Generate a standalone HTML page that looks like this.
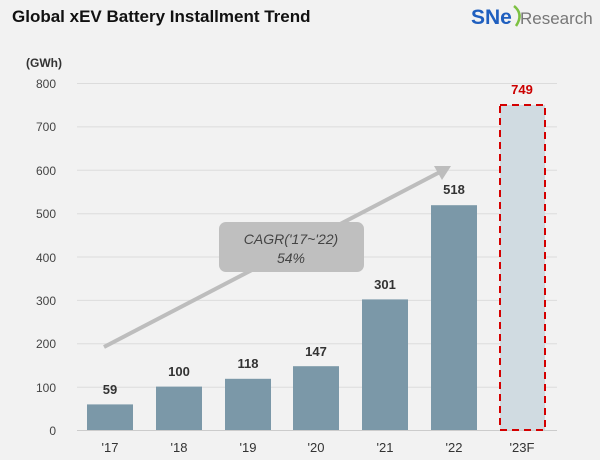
<!DOCTYPE html><html><head><style>body{margin:0;background:#f2f2f2}</style></head><body>
<svg width="600" height="455" xmlns="http://www.w3.org/2000/svg" font-family="Liberation Sans, sans-serif">
<rect width="600" height="455" fill="#f2f2f2"/>
<text x="12" y="22" font-size="17" font-weight="bold" fill="#111">Global xEV Battery Installment Trend</text>
<text x="471" y="24" font-size="21" font-weight="bold" fill="#1f5fbf">SNe</text>
<path d="M514 6 Q524 14 516 26" stroke="#7dc142" stroke-width="2.5" fill="none"/>
<text x="520" y="24" font-size="17" fill="#777">Research</text>
<text x="26" y="67" font-size="12" font-weight="bold" fill="#333">(GWh)</text>
<g stroke="#dcdcdc" stroke-width="1">
<line x1="77" x2="557" y1="83.5" y2="83.5"/><line x1="77" x2="557" y1="126.9" y2="126.9"/>
<line x1="77" x2="557" y1="170.3" y2="170.3"/><line x1="77" x2="557" y1="213.7" y2="213.7"/>
<line x1="77" x2="557" y1="257" y2="257"/><line x1="77" x2="557" y1="300.4" y2="300.4"/>
<line x1="77" x2="557" y1="343.8" y2="343.8"/><line x1="77" x2="557" y1="387.2" y2="387.2"/>
<line x1="77" x2="557" y1="430.5" y2="430.5" stroke="#ccc"/>
</g>
<g font-size="12" fill="#444" text-anchor="end">
<text x="56" y="88">800</text><text x="56" y="131">700</text><text x="56" y="175">600</text>
<text x="56" y="218">500</text><text x="56" y="262">400</text><text x="56" y="305">300</text>
<text x="56" y="348">200</text><text x="56" y="392">100</text><text x="56" y="435">0</text>
</g>
<g fill="#7b98a8">
<rect x="87" y="404.4" width="46" height="25.6"/>
<rect x="156" y="386.6" width="46" height="43.4"/>
<rect x="225" y="378.8" width="46" height="51.2"/>
<rect x="293" y="366.2" width="46" height="63.8"/>
<rect x="362" y="299.4" width="46" height="130.6"/>
<rect x="431" y="205.2" width="46" height="224.8"/>
</g>
<rect x="500" y="105" width="45" height="325" fill="#d0dbe1" stroke="#d40000" stroke-width="2" stroke-dasharray="7,5"/>
<g font-size="13" font-weight="bold" fill="#333" text-anchor="middle">
<text x="110" y="394">59</text><text x="179" y="376">100</text><text x="248" y="368">118</text>
<text x="316" y="356">147</text><text x="385" y="289">301</text><text x="454" y="194">518</text>
<text x="522" y="94" fill="#cc0000">749</text>
</g>
<g font-size="13" fill="#333" text-anchor="middle">
<text x="110" y="452">'17</text><text x="179" y="452">'18</text><text x="248" y="452">'19</text>
<text x="316" y="452">'20</text><text x="385" y="452">'21</text><text x="454" y="452">'22</text><text x="522" y="452">'23F</text>
</g>
<line x1="104" y1="347" x2="440" y2="172" stroke="#bdbdbd" stroke-width="4"/>
<polygon points="451,166 434,166 442,180" fill="#bdbdbd"/>
<rect x="219" y="222" width="145" height="50" rx="7" fill="#bfbfbf"/>
<g font-size="14" font-style="italic" fill="#444" text-anchor="middle">
<text x="291" y="244">CAGR('17~'22)</text><text x="291" y="263">54%</text>
</g>
</svg>
</body></html>
